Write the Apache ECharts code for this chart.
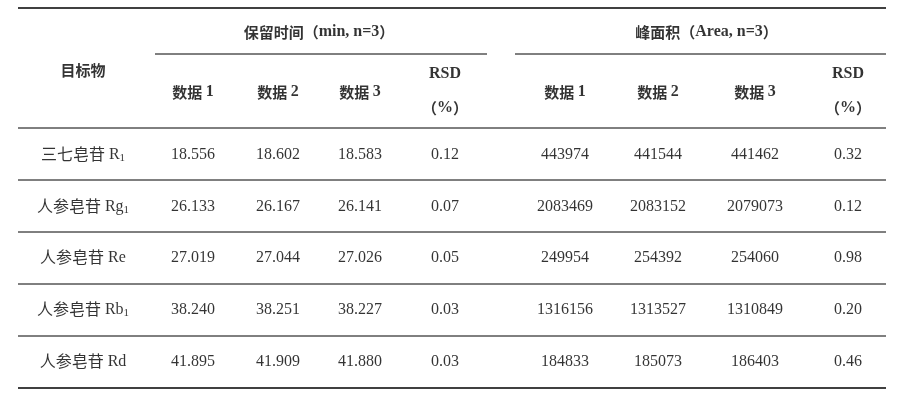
<!DOCTYPE html>
<html><head><meta charset="utf-8">
<script src="https://cdn.jsdelivr.net/npm/echarts@6/dist/echarts.min.js"></script>
<style>html,body{margin:0;background:#fff}#c{width:900px;height:403px}</style>
</head><body><div id="c"></div>
<script>
// ---- data ----
const compounds = [["三七皂苷","R","1"],["人参皂苷","Rg","1"],["人参皂苷","Re",""],["人参皂苷","Rb","1"],["人参皂苷","Rd",""]];
const rt1 = ["18.556","26.133","27.019","38.240","41.895"];
const rt2 = ["18.602","26.167","27.044","38.251","41.909"];
const rt3 = ["18.583","26.141","27.026","38.227","41.880"];
const rtRSD = ["0.12","0.07","0.05","0.03","0.03"];
const area1 = ["443974","2083469","249954","1316156","184833"];
const area2 = ["441544","2083152","254392","1313527","185073"];
const area3 = ["441462","2079073","254060","1310849","186403"];
const areaRSD = ["0.32","0.12","0.98","0.20","0.46"];
const subHeaders = ["数据 1","数据 2","数据 3"];
// ---- layout ----
const colX = [83,193,278,360,445,565,658,755,848];
const rowY = [155,207,258,310,362];
const hLines = [[18,886,8,1.6],[155,487,54,1],[515,886,54,1],[18,886,128,1],[18,886,180,1],[18,886,232,1],[18,886,284,1],[18,886,336,1],[18,886,388,1.6]];

const CN='"Noto Sans CJK SC"', EN='"Liberation Serif"';
const rich={cn:{fontFamily:CN,fontSize:16,color:'#000',padding:[0,0,2,0]},en:{fontFamily:EN,fontSize:16,color:'#000'},
 sub:{fontFamily:EN,fontSize:11,color:'#000',verticalAlign:'bottom',padding:[6,0,0,0]},
 cb:{fontFamily:CN,fontSize:15,fontWeight:'bold',color:'#000'},eb:{fontFamily:EN,fontSize:16,fontWeight:'bold',color:'#000'}};
const texts=[];
function add(x,y,t){texts.push({value:[x,y],t:t});}
add((colX[1]+colX[4])/2,32,'{cb|保留时间（}{eb|min, n=3}{cb|）}');
add((colX[5]+colX[8])/2,32,'{cb|峰面积（}{eb|Area, n=3}{cb|）}');
add(colX[0],70,'{cb|目标物}');
[1,2,3,5,6,7].forEach((c,i)=>{const n=subHeaders[i%3].split(' ');add(colX[c],92,'{cb|'+n[0]+' }{eb|'+n[1]+'}');});
[4,8].forEach(c=>{add(colX[c],74,'{eb|RSD}');add(colX[c],108,'{cb|（}{eb|%}{cb|）}');});
const cols=[rt1,rt2,rt3,rtRSD,area1,area2,area3,areaRSD];
rowY.forEach((y,r)=>{
  const n=compounds[r];
  add(colX[0],y,'{cn|'+n[0]+'}{en| '+n[1]+'}'+(n[2]?'{sub|'+n[2]+'}':''));
  cols.forEach((arr,c)=>add(colX[c+1],y,'{en|'+arr[r]+'}'));
});
const chart=echarts.init(document.getElementById('c'));
chart.setOption({
 animation:false,
 grid:{left:0,right:0,top:0,bottom:0},
 xAxis:{type:'value',min:0,max:900,show:false},
 yAxis:{type:'value',min:0,max:403,inverse:true,show:false},
 series:[
  {type:'custom',data:hLines,renderItem:(p,api)=>{
    const a=api.coord([api.value(0),api.value(2)]),b=api.coord([api.value(1),api.value(2)]);
    return {type:'line',shape:{x1:a[0],y1:a[1],x2:b[0],y2:b[1]},style:{stroke:'#000',lineWidth:api.value(3)}};
  },encode:{x:[0,1],y:2}},
  {type:'scatter',symbolSize:0,data:texts,label:{show:true,position:'inside',color:'#000',formatter:p=>p.data.t,rich:rich}}
 ]
});
</script></body></html>
